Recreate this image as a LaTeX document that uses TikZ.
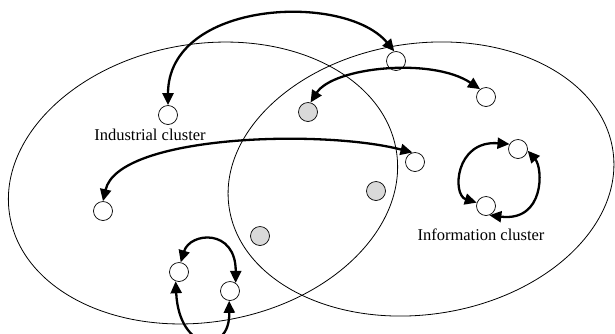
\documentclass[tikz,border=0pt]{standalone}
\usepackage{fontspec}
\setmainfont{Liberation Serif}
\usetikzlibrary{arrows.meta}
\begin{document}
\begin{tikzpicture}[x=1pt,y=-1pt,
  cluster/.style={draw, line width=0.8pt},
  firm/.style={circle, draw, line width=0.7pt, fill=white, minimum size=19pt, inner sep=0pt},
  shared/.style={firm, fill=black!15},
  link/.style={line width=2.3pt, {Triangle[length=12pt,width=11pt]}-{Triangle[length=12pt,width=11pt]}},
  tag/.style={font=\fontsize{16.5}{18}\selectfont, anchor=base, inner sep=0pt}]
\useasboundingbox (0,0) rectangle (615,333);
\clip (0,0) rectangle (615,333);

% the two overlapping clusters
\draw[cluster, rotate around={9.7:(203,183)}] (203,183) ellipse [x radius=196, y radius=139];
\draw[cluster, rotate around={8.5:(421,179)}] (421,179) ellipse [x radius=194, y radius=135.5];

% firms
\node[firm]   (A) at (168,115) {};
\node[firm]   (B) at (396,61) {};
\node[shared] (C) at (308,112) {};
\node[firm]   (D) at (486,97) {};
\node[firm]   (E) at (415,162) {};
\node[firm]   (F) at (103,211) {};
\node[shared] (G) at (376,191) {};
\node[shared] (H) at (260,236) {};
\node[firm]   (I) at (518,149) {};
\node[firm]   (J) at (486,206) {};
\node[firm]   (K) at (179,272) {};
\node[firm]   (L) at (230,291) {};

% labels
\node[tag] (indlabel) at (150,140.7) {Industrial cluster};
\node[tag] (inflabel) at (481,240.5) {Information cluster};

% links between firms
\draw[link] (A.north) .. controls (168,0) and (345,-8) .. (B.100);
\draw[link] (C.75) .. controls (333,67) and (432,57) .. (D.127);
\draw[link] (F.north) .. controls (118,135) and (322,129) .. (E.105);
\draw[link] (I.150) .. controls (455,140) and (452,195) .. (J.160);
\draw[link] (J.-70) .. controls (545,222) and (543,168) .. (I.-10);
\draw[link] (K.80) .. controls (190,232) and (236,228) .. (L.55);
\draw[link] (K.-110) .. controls (179,352) and (230,356) .. (L.-95);
\end{tikzpicture}
\end{document}
